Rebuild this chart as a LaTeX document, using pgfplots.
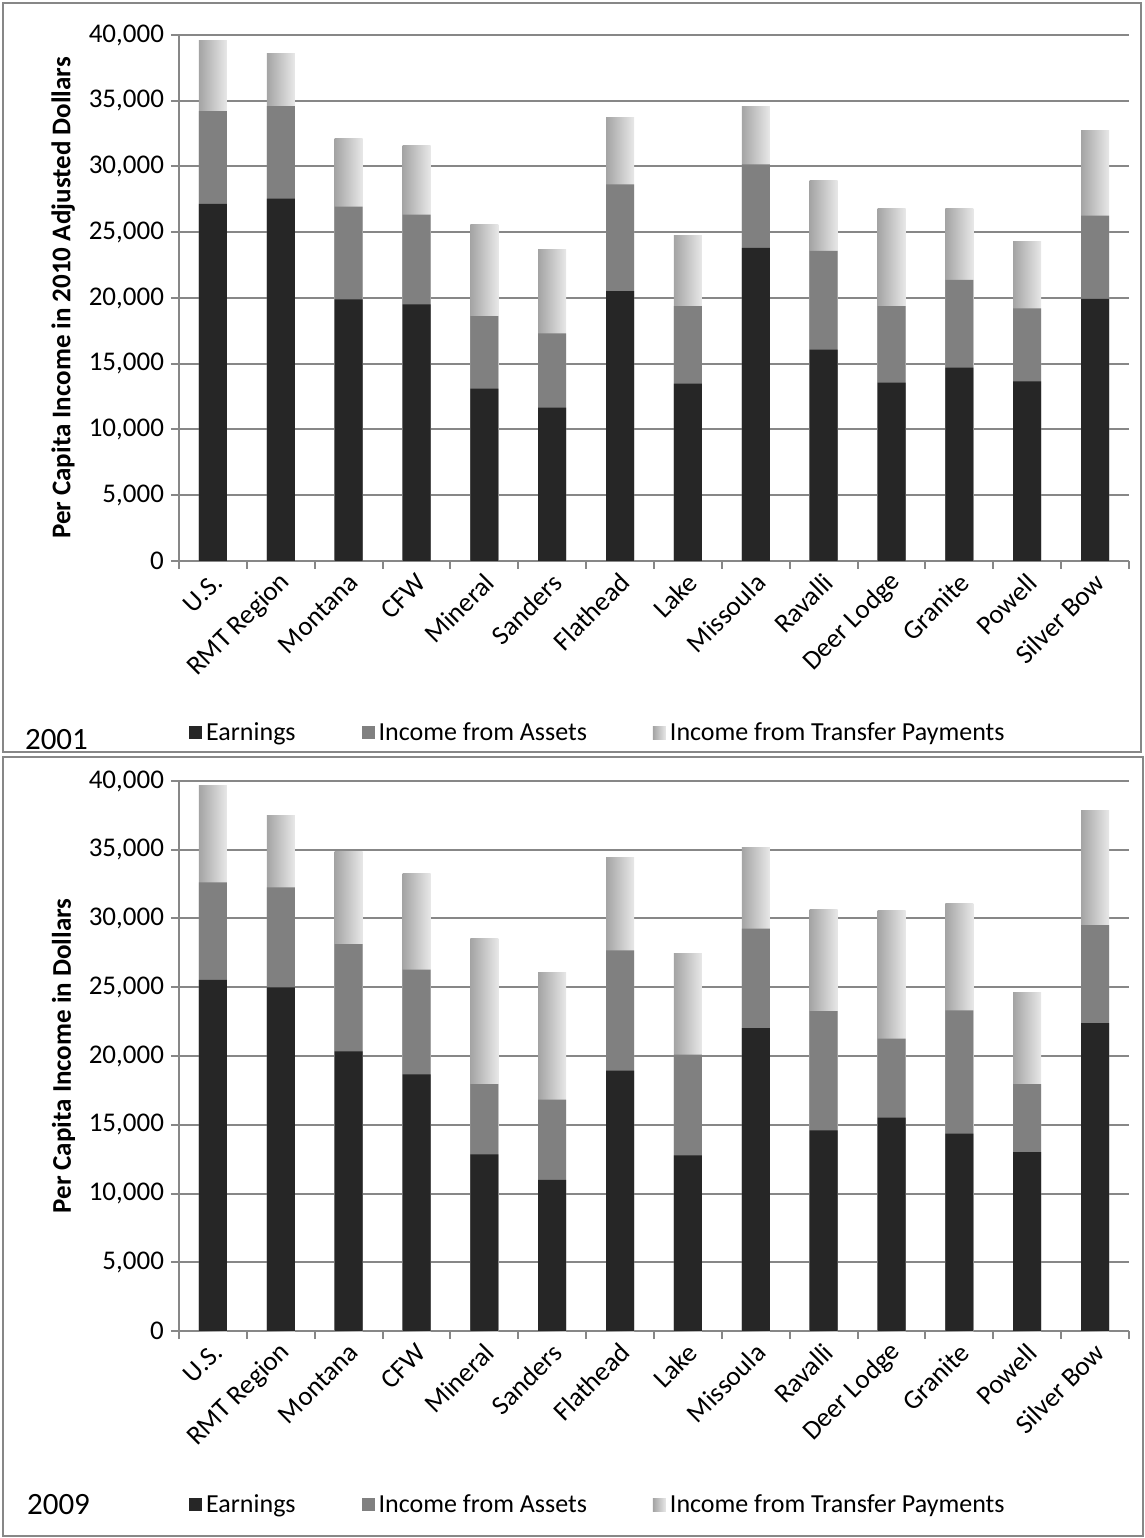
\documentclass[border=0pt]{standalone}
\usepackage{pgfplots}
\usepackage{pgfplotstable}
\pgfplotsset{compat=1.18}
\usepackage{fontspec}
\setmainfont{Carlito}

\definecolor{earn}{HTML}{262626}
\definecolor{asset}{HTML}{808080}
\definecolor{trleft}{HTML}{A4A4A4}
\definecolor{trright}{HTML}{E8E8E8}
\definecolor{axgray}{HTML}{878787}

% values, dollars per capita
\pgfplotstableread{
x E A T
0 27160 7050 5350
1 27550 7040 4040
2 19900 7050 5180
3 19520 6820 5270
4 13100 5520 6960
5 11660 5650 6360
6 20530 8110 5100
7 13490 5890 5410
8 23810 6360 4420
9 16080 7510 5350
10 13570 5810 7400
11 14710 6670 5400
12 13650 5570 5050
13 19930 6330 6500
}\yrA

\pgfplotstableread{
x E A T
0 25530 7100 7040
1 24990 7270 5260
2 20330 7800 6730
3 18660 7630 6960
4 12840 5110 10630
5 11000 5820 9250
6 18940 8740 6780
7 12780 7320 7350
8 22020 7240 5910
9 14590 8680 7380
10 15520 5740 9300
11 14360 8960 7780
12 13010 4940 6680
13 22390 7130 8310
}\yrB

\pgfplotsset{
  incstyle/.style={
    scale only axis,
    width=475pt,
    ybar,
    bar width=14pt,
    xmin=-0.5, xmax=13.5,
    ymin=0, ymax=40000,
    enlargelimits=false,
    axis x line=bottom,
    axis y line=left,
    axis line style={-, draw=axgray, line width=1pt},
    tick style={draw=axgray, line width=1pt},
    tick align=outside,
    major tick length=4pt,
    ymajorgrids,
    grid style={draw=axgray, line width=1pt},
    ytick={0,5000,...,40000},
    scaled y ticks=false,
    y tick label style={font=\fontsize{13.5}{16}\selectfont,
      /pgf/number format/fixed,
      /pgf/number format/1000 sep={,},
      /pgf/number format/assume math mode=true},
    xtick={-0.5,0.5,1.5,2.5,3.5,4.5,5.5,6.5,7.5,8.5,9.5,10.5,11.5,12.5,13.5},
    x tick label as interval,
    xticklabels={U.S.,RMT Region,Montana,CFW,Mineral,Sanders,Flathead,Lake,Missoula,Ravalli,Deer Lodge,Granite,Powell,Silver Bow},
    x tick label style={rotate=45, anchor=east, font=\fontsize{13.5}{16}\selectfont, yshift=-5pt, xshift=2pt},
    ylabel style={font=\fontsize{13.5}{16}\selectfont\bfseries},
    legend columns=-1,
    legend style={draw=none, fill=none, anchor=west,
      font=\fontsize{13}{15}\selectfont,
      /tikz/every even column/.append style={column sep=31pt}},
    legend image code/.code={\path[#1,draw=none] (0pt,-3.25pt) rectangle (6.5pt,3.25pt);},
  },
  earnbar/.style={draw=none, fill=earn, bar shift=0pt, forget plot},
  assetbar/.style={draw=none, fill=asset, bar shift=0pt, forget plot},
  trbar/.style={draw=none, left color=trleft, right color=trright, bar shift=0pt, forget plot},
}

\begin{document}
\begin{tikzpicture}
\useasboundingbox (0pt,0pt) rectangle (572.5pt,769pt);

% panel frames
\draw[axgray, line width=1pt] (1.5pt,393pt) rectangle (570.5pt,767.5pt);
\draw[axgray, line width=1pt] (1.5pt,1pt) rectangle (571.5pt,390.5pt);

\begin{axis}[incstyle,
  at={(89.5pt,488.5pt)}, anchor=south west,
  height=263pt,
  ylabel={Per Capita Income in 2010 Adjusted Dollars},
  legend style={at={(0.004,-0.327)}},
]
\addlegendimage{draw=none, fill=earn}
\addlegendimage{draw=none, fill=asset}
\addlegendimage{draw=none, left color=trleft, right color=trright}
% transfer bars one by one so each gets its own left-to-right shading
\pgfplotsinvokeforeach{0,...,13}{
  \addplot[trbar, restrict x to domain=#1:#1] table[x=x, y expr=\thisrow{E}+\thisrow{A}+\thisrow{T}] {\yrA};
}
\addplot[assetbar] table[x=x, y expr=\thisrow{E}+\thisrow{A}] {\yrA};
\addplot[earnbar] table[x=x, y=E] {\yrA};
\legend{Earnings, Income from Assets, Income from Transfer Payments}
\end{axis}

\begin{axis}[incstyle,
  at={(89.5pt,103.5pt)}, anchor=south west,
  height=275pt,
  ylabel={Per Capita Income in Dollars},
  legend style={at={(0.004,-0.316)}},
]
\addlegendimage{draw=none, fill=earn}
\addlegendimage{draw=none, fill=asset}
\addlegendimage{draw=none, left color=trleft, right color=trright}
\pgfplotsinvokeforeach{0,...,13}{
  \addplot[trbar, restrict x to domain=#1:#1] table[x=x, y expr=\thisrow{E}+\thisrow{A}+\thisrow{T}] {\yrB};
}
\addplot[assetbar] table[x=x, y expr=\thisrow{E}+\thisrow{A}] {\yrB};
\addplot[earnbar] table[x=x, y=E] {\yrB};
\legend{Earnings, Income from Assets, Income from Transfer Payments}
\end{axis}

\node[anchor=west, font=\fontsize{15.5}{18}\selectfont] at (9pt,399pt) {2001};
\node[anchor=west, font=\fontsize{15.5}{18}\selectfont] at (10pt,16.5pt) {2009};
\end{tikzpicture}
\end{document}
